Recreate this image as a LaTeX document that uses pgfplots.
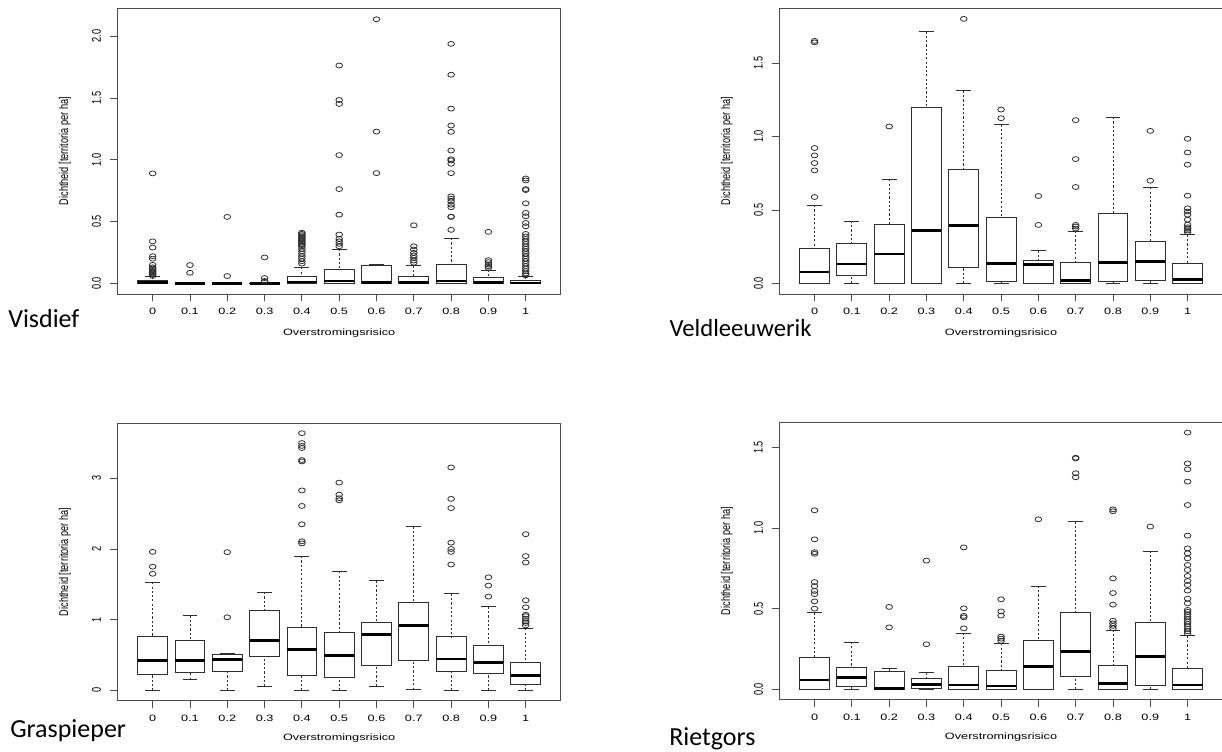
\documentclass[border=0pt]{standalone}
\usepackage{fontspec}
\setmainfont{Liberation Sans}
\newfontfamily\hfont[FakeStretch=1.38]{Liberation Sans}
\newfontfamily\vfont[FakeStretch=0.725]{Liberation Sans}
\newfontfamily\labfont{Carlito}
\usepackage{pgfplots}
\pgfplotsset{compat=1.18}
\usepgfplotslibrary{statistics}
\definecolor{fr}{gray}{0.3}
\definecolor{bl}{gray}{0.18}

\pgfplotsset{
  rpanel/.style={
    scale only axis,
    width=332.4pt,
    xmin=0.06, xmax=11.94,
    xtick={1,2,3,4,5,6,7,8,9,10,11},
    xticklabels={0,0.1,0.2,0.3,0.4,0.5,0.6,0.7,0.8,0.9,1},
    tick align=outside,
    xtick pos=left, ytick pos=left,
    major tick length=5.5pt,
    minor tick num=0,
    tick style={fr, line width=0.6pt},
    axis line style={fr, line width=0.75pt},
    xticklabel style={font=\hfont\fontsize{6.9}{8}\selectfont, anchor=center, yshift=-7.8pt},
    yticklabel style={font=\vfont\fontsize{9.5}{11}\selectfont, rotate=90, anchor=center, yshift=10.3pt},
    xlabel={Overstromingsrisico},
    ylabel={Dichtheid [territoria per ha]},
    xlabel style={font=\hfont\fontsize{6.9}{8}\selectfont, at={(axis description cs:0.5,-0.137)}, anchor=center},
    ylabel style={font=\vfont\fontsize{9.5}{11}\selectfont, at={(axis description cs:-0.119,0.5)}, anchor=center},
    boxplot/draw direction=y,
    boxplot/box extend=0.8,
    boxplot/whisker extend=0.4,
    boxplot/every median/.style={draw=black, line width=2pt},
    boxplot/every box/.style={draw=bl, line width=0.7pt},
    boxplot/draw/lower whisker/.code={%
      \draw[bl, line width=0.65pt, dash pattern=on 1.6pt off 1.6pt]
        (boxplot cs:\pgfplotsboxplotvalue{lower whisker}) -- (boxplot cs:\pgfplotsboxplotvalue{lower quartile});
      \draw[bl, line width=0.65pt, solid]
        (boxplot whisker cs:\pgfplotsboxplotvalue{lower whisker},0) -- (boxplot whisker cs:\pgfplotsboxplotvalue{lower whisker},1);
    },
    boxplot/draw/upper whisker/.code={%
      \draw[bl, line width=0.65pt, dash pattern=on 1.6pt off 1.6pt]
        (boxplot cs:\pgfplotsboxplotvalue{upper whisker}) -- (boxplot cs:\pgfplotsboxplotvalue{upper quartile});
      \draw[bl, line width=0.65pt, solid]
        (boxplot whisker cs:\pgfplotsboxplotvalue{upper whisker},0) -- (boxplot whisker cs:\pgfplotsboxplotvalue{upper whisker},1);
    },
  },
  bx/.style={bl, solid, line width=0.7pt, mark=o, mark size=1.85pt,
    mark options={solid, xscale=1.35, line width=0.6pt, draw=bl}},
}
\newcommand{\B}[7]{\addplot[bx, boxplot prepared={draw position=#1, lower whisker=#2, lower quartile=#3, median=#4, upper quartile=#5, upper whisker=#6}] coordinates {#7};}

\begin{document}
\begin{tikzpicture}
\path[use as bounding box] (0,0) rectangle (916.5pt,-563.25pt);

% ---------------- Visdief ----------------
\begin{axis}[rpanel, at={(88.2pt,-220.5pt)}, anchor=south west, height=214.3pt,
  ymin=-0.086, ymax=2.226, ytick={0,0.5,1,1.5,2}, yticklabels={0.0,0.5,1.0,1.5,2.0}]
\B{1}{0}{0}{0.005}{0.024}{0.054}{(1,0.06)(1,0.07)(1,0.08)(1,0.09)(1,0.10)(1,0.11)(1,0.12)(1,0.13)(1,0.15)(1,0.20)(1,0.22)(1,0.29)(1,0.34)(1,0.89)}
\B{2}{0}{0}{0}{0}{0}{(2,0.086)(2,0.148)}
\B{3}{0}{0}{0}{0}{0}{(3,0.059)(3,0.538)}
\B{4}{0}{0}{0}{0.003}{0.003}{(4,0.012)(4,0.02)(4,0.043)(4,0.21)}
\B{5}{0}{0}{0.01}{0.054}{0.13}{(5,0.16)(5,0.18)(5,0.20)(5,0.22)(5,0.24)(5,0.26)(5,0.28)(5,0.30)(5,0.31)(5,0.32)(5,0.33)(5,0.34)(5,0.35)(5,0.36)(5,0.37)(5,0.38)(5,0.39)(5,0.40)(5,0.41)}
\B{6}{0}{0}{0.019}{0.113}{0.277}{(6,0.30)(6,0.32)(6,0.34)(6,0.36)(6,0.395)(6,0.556)(6,0.763)(6,1.038)(6,1.452)(6,1.484)(6,1.763)}
\B{7}{0}{0}{0.005}{0.148}{0.15}{(7,0.892)(7,1.228)(7,2.137)}
\B{8}{0}{0}{0.005}{0.059}{0.142}{(8,0.167)(8,0.185)(8,0.207)(8,0.226)(8,0.247)(8,0.274)(8,0.30)(8,0.47)}
\B{9}{0}{0}{0.019}{0.153}{0.366}{(9,0.433)(9,0.538)(9,0.54)(9,0.616)(9,0.637)(9,0.664)(9,0.685)(9,0.704)(9,0.892)(9,0.968)(9,0.995)(9,1.005)(9,1.075)(9,1.226)(9,1.277)(9,1.414)(9,1.688)(9,1.938)}
\B{10}{0}{0}{0.005}{0.046}{0.108}{(10,0.126)(10,0.14)(10,0.153)(10,0.172)(10,0.188)(10,0.417)}
\B{11}{0}{0}{0.003}{0.024}{0.054}{(11,0.065)(11,0.08)(11,0.10)(11,0.12)(11,0.14)(11,0.16)(11,0.18)(11,0.20)(11,0.22)(11,0.24)(11,0.26)(11,0.28)(11,0.30)(11,0.32)(11,0.34)(11,0.36)(11,0.38)(11,0.40)(11,0.462)(11,0.489)(11,0.543)(11,0.57)(11,0.648)(11,0.755)(11,0.763)(11,0.833)(11,0.849)}
\end{axis}

% ---------------- Veldleeuwerik ----------------
\begin{axis}[rpanel, at={(584.6pt,-220.5pt)}, anchor=south west, height=214.3pt,
  ymin=-0.072, ymax=1.872, ytick={0,0.5,1,1.5}, yticklabels={0.0,0.5,1.0,1.5}]
\B{1}{0}{0}{0.077}{0.2375}{0.532}{(1,0.588)(1,0.769)(1,0.819)(1,0.871)(1,0.921)(1,1.64)(1,1.65)}
\B{2}{0}{0.054}{0.133}{0.274}{0.425}{}
\B{3}{0}{0}{0.201}{0.398}{0.708}{(3,1.068)}
\B{4}{0}{0}{0.362}{1.199}{1.713}{}
\B{5}{0}{0.109}{0.394}{0.774}{1.31}{(5,1.80)}
\B{6}{0}{0.011}{0.136}{0.452}{1.081}{(6,1.124)(6,1.183)}
\B{7}{0}{0}{0.127}{0.158}{0.224}{(7,0.398)(7,0.595)}
\B{8}{0}{0}{0.02}{0.145}{0.357}{(8,0.373)(8,0.387)(8,0.398)(8,0.656)(8,0.846)(8,1.111)}
\B{9}{0}{0.016}{0.143}{0.475}{1.131}{}
\B{10}{0}{0.02}{0.149}{0.283}{0.654}{(10,0.699)(10,1.038)}
\B{11}{0}{0}{0.027}{0.133}{0.33}{(11,0.348)(11,0.36)(11,0.371)(11,0.382)(11,0.40)(11,0.434)(11,0.468)(11,0.489)(11,0.511)(11,0.597)(11,0.808)(11,0.891)(11,0.984)}
\end{axis}

% ---------------- Graspieper ----------------
\begin{axis}[rpanel, at={(88.2pt,-525.45pt)}, anchor=south west, height=208pt,
  ymin=-0.145, ymax=3.78, ytick={0,1,2,3}, yticklabels={0,1,2,3}]
\B{1}{0}{0.227}{0.42}{0.756}{1.53}{(1,1.65)(1,1.75)(1,1.96)}
\B{2}{0.151}{0.25}{0.42}{0.70}{1.058}{}
\B{3}{0}{0.274}{0.44}{0.51}{0.52}{(3,1.034)(3,1.956)}
\B{4}{0.057}{0.482}{0.709}{1.134}{1.389}{}
\B{5}{0}{0.217}{0.576}{0.888}{1.899}{(5,2.08)(5,2.11)(5,2.35)(5,2.61)(5,2.83)(5,3.24)(5,3.26)(5,3.43)(5,3.46)(5,3.50)(5,3.64)}
\B{6}{0}{0.18}{0.496}{0.817}{1.686}{(6,2.69)(6,2.72)(6,2.77)(6,2.94)}
\B{7}{0.061}{0.359}{0.794}{0.968}{1.549}{}
\B{8}{0.01}{0.42}{0.916}{1.247}{2.32}{}
\B{9}{0}{0.269}{0.444}{0.756}{1.365}{(9,1.781)(9,1.96)(9,2.0)(9,2.09)(9,2.58)(9,2.71)(9,3.155)}
\B{10}{0}{0.246}{0.397}{0.642}{1.181}{(10,1.327)(10,1.483)(10,1.60)}
\B{11}{0}{0.08}{0.213}{0.397}{0.879}{(11,0.92)(11,0.954)(11,0.98)(11,1.015)(11,1.05)(11,1.07)(11,1.176)(11,1.275)(11,1.81)(11,1.90)(11,2.21)}
\end{axis}

% ---------------- Rietgors ----------------
\begin{axis}[rpanel, at={(584.6pt,-524.7pt)}, anchor=south west, height=208pt,
  ymin=-0.064, ymax=1.656, ytick={0,0.5,1,1.5}, yticklabels={0.0,0.5,1.0,1.5}]
\B{1}{0}{0}{0.058}{0.198}{0.477}{(1,0.50)(1,0.545)(1,0.59)(1,0.61)(1,0.64)(1,0.665)(1,0.84)(1,0.85)(1,0.93)(1,1.11)}
\B{2}{0}{0.016}{0.074}{0.138}{0.293}{}
\B{3}{0}{0}{0.006}{0.11}{0.128}{(3,0.384)(3,0.511)}
\B{4}{0}{0.006}{0.031}{0.07}{0.103}{(4,0.279)(4,0.798)}
\B{5}{0}{0}{0.027}{0.143}{0.349}{(5,0.378)(5,0.446)(5,0.455)(5,0.502)(5,0.88)}
\B{6}{0}{0}{0.02}{0.116}{0.285}{(6,0.30)(6,0.314)(6,0.327)(6,0.457)(6,0.483)(6,0.558)}
\B{7}{0}{0}{0.14}{0.302}{0.641}{(7,1.054)}
\B{8}{0}{0.079}{0.233}{0.477}{1.04}{(8,1.315)(8,1.34)(8,1.432)(8,1.436)}
\B{9}{0}{0}{0.037}{0.147}{0.368}{(9,0.378)(9,0.393)(9,0.409)(9,0.425)(9,0.525)(9,0.597)(9,0.688)(9,1.104)(9,1.116)}
\B{10}{0}{0.023}{0.202}{0.415}{0.858}{(10,1.009)}
\B{11}{0}{0}{0.027}{0.132}{0.331}{(11,0.347)(11,0.36)(11,0.375)(11,0.39)(11,0.405)(11,0.42)(11,0.435)(11,0.45)(11,0.465)(11,0.48)(11,0.492)(11,0.533)(11,0.562)(11,0.612)(11,0.647)(11,0.672)(11,0.703)(11,0.74)(11,0.771)(11,0.812)(11,0.843)(11,0.874)(11,0.953)(11,1.143)(11,1.288)(11,1.364)(11,1.401)(11,1.592)}
\end{axis}

% species labels
\node[anchor=base west, inner sep=0pt, font=\labfont\fontsize{19.5}{22}\selectfont] at (6pt,-245.3pt) {Visdief};
\node[anchor=base west, inner sep=0pt, font=\labfont\fontsize{18.5}{22}\selectfont] at (502pt,-252pt) {Veldleeuwerik};
\node[anchor=base west, inner sep=0pt, font=\labfont\fontsize{19.5}{22}\selectfont] at (7.5pt,-553pt) {Graspieper};
\node[anchor=base west, inner sep=0pt, font=\labfont\fontsize{19.5}{22}\selectfont] at (501.75pt,-558.75pt) {Rietgors};
\end{tikzpicture}
\end{document}
